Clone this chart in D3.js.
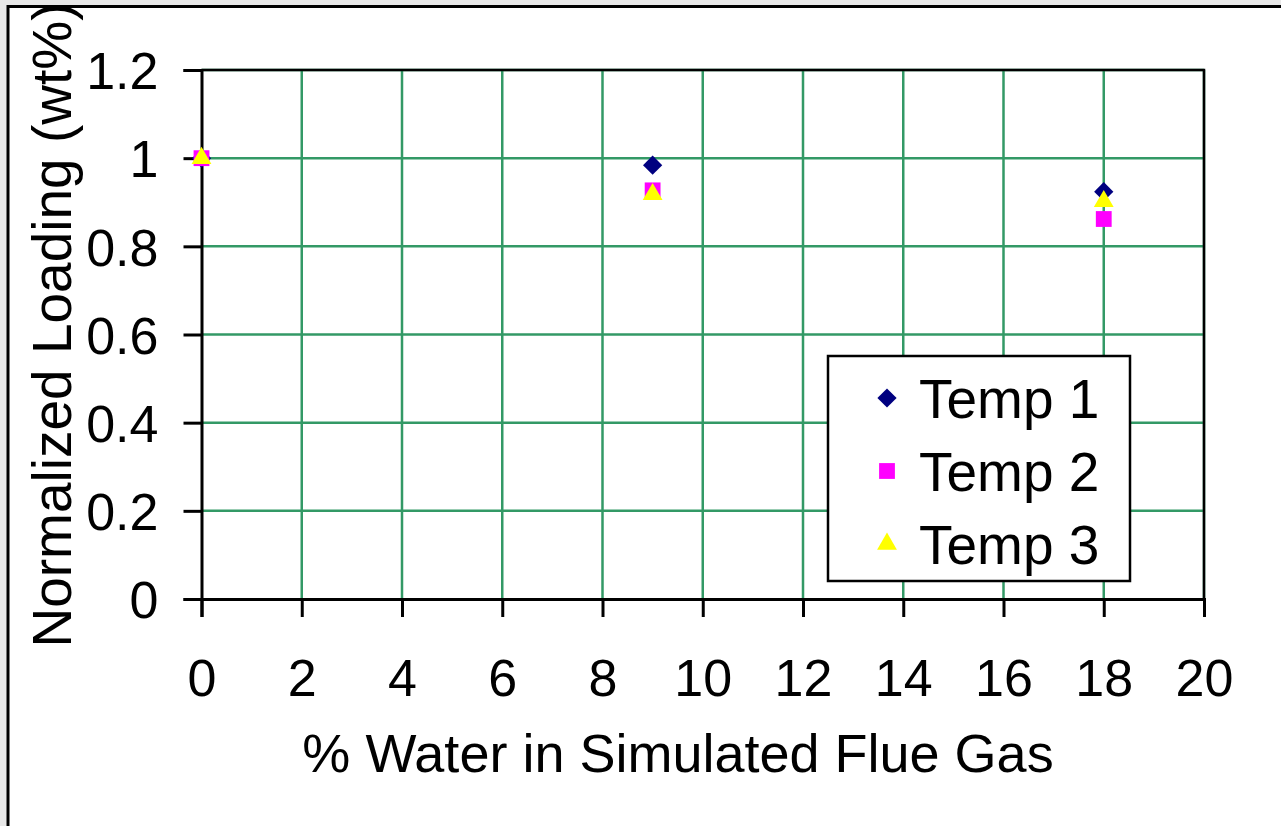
<!DOCTYPE html>
<html>
<head>
<meta charset="utf-8">
<script src="https://cdn.jsdelivr.net/npm/d3@7"></script>
<style>
  body { margin: 0; background: #e8e8e8; }
  svg { display: block; font-family: "Liberation Sans", Arial, sans-serif; }
</style>
</head>
<body>
<div id="chart"></div>
<script>
// data
var water = [0, 9, 18];
var temp1 = [1, 0.984, 0.924];
var temp2 = [1, 0.927, 0.862];
var temp3 = [1, 0.918, 0.902];
var seriesNames = ["Temp 1", "Temp 2", "Temp 3"];
var xTicks = [0, 2, 4, 6, 8, 10, 12, 14, 16, 18, 20];
var yTicks = [0, 0.2, 0.4, 0.6, 0.8, 1, 1.2];

var W = 1281, H = 826;
var svg = d3.select("#chart").append("svg").attr("width", W).attr("height", H);

// outer chart frame (runs off the right and bottom edge)
svg.append("rect").attr("x", 8).attr("y", 6.5).attr("width", 1400).attr("height", 1000)
  .attr("fill", "#fff").attr("stroke", "#000").attr("stroke-width", 3);

var x = d3.scaleLinear().domain([0, 20]).range([201.5, 1204]);
var y = d3.scaleLinear().domain([0, 1.2]).range([599, 70]);

var grid = svg.append("g");
grid.selectAll("line.v").data(xTicks.slice(1)).enter().append("line")
  .attr("x1", function (d) { return x(d); }).attr("x2", function (d) { return x(d); })
  .attr("y1", y(0)).attr("y2", y(1.2))
  .attr("stroke", "#339966").attr("stroke-width", 2.5);
grid.selectAll("line.h").data(yTicks.slice(1)).enter().append("line")
  .attr("x1", x(0)).attr("x2", x(20))
  .attr("y1", function (d) { return y(d); }).attr("y2", function (d) { return y(d); })
  .attr("stroke", "#339966").attr("stroke-width", 2.5);

// plot border top/right
svg.append("path")
  .attr("d", "M" + x(0) + "," + y(1.2) + "H" + x(20) + "V" + y(0))
  .attr("fill", "none").attr("stroke", "#000").attr("stroke-width", 2.5);

var xAxis = svg.append("g").attr("transform", "translate(0," + y(0) + ")")
  .call(d3.axisBottom(x).tickValues(xTicks).tickSize(18).tickPadding(42).tickFormat(d3.format("d")));
var yAxis = svg.append("g").attr("transform", "translate(" + x(0) + ",0)")
  .call(d3.axisLeft(y).tickValues(yTicks).tickSize(18).tickPadding(25).tickFormat(function (d) { return d3.format("")(+d.toFixed(1)); }));

[xAxis, yAxis].forEach(function (a) {
  a.select(".domain").attr("stroke", "#000").attr("stroke-width", 3);
  a.selectAll(".tick line").attr("stroke", "#000").attr("stroke-width", 3);
  a.selectAll(".tick text").attr("fill", "#000").style("font-size", "52px")
    .style("font-family", "Liberation Sans, Arial, sans-serif");
});
yAxis.selectAll(".tick text").attr("dy", "0.36em");
xAxis.selectAll(".tick text").attr("dy", "0.71em");

svg.append("text").attr("x", 678).attr("y", 772).attr("text-anchor", "middle")
  .style("font-size", "54px").text("% Water in Simulated Flue Gas");
svg.append("text").attr("transform", "translate(71,325) rotate(-90)").attr("text-anchor", "middle")
  .style("font-size", "55px").text("Normalized Loading (wt%)");

var symDiamond = d3.symbol().type(d3.symbolSquare).size(185);
var symSquare = d3.symbol().type(d3.symbolSquare).size(250);
var symTri = d3.symbol().type(d3.symbolTriangle).size(170);
var series = [
  { name: seriesNames[0], values: temp1, color: "#000080", path: symDiamond(), rot: 45 },
  { name: seriesNames[1], values: temp2, color: "#ff00ff", path: symSquare(), rot: 0 },
  { name: seriesNames[2], values: temp3, color: "#ffff00", path: symTri(), rot: 0 }
];

series.forEach(function (s) {
  svg.append("g").selectAll("path").data(s.values).enter().append("path")
    .attr("d", s.path).attr("fill", s.color)
    .attr("transform", function (d, i) {
      return "translate(" + x(water[i]) + "," + y(d) + ") rotate(" + s.rot + ")";
    });
});

// legend
var lg = svg.append("g");
lg.append("rect").attr("x", 828).attr("y", 356).attr("width", 302).attr("height", 225)
  .attr("fill", "#fff").attr("stroke", "#000").attr("stroke-width", 2.5);
series.forEach(function (s, i) {
  var cy = 398 + i * 73;
  lg.append("path").attr("d", s.path).attr("fill", s.color)
    .attr("transform", "translate(887," + cy + ") rotate(" + s.rot + ")");
  lg.append("text").attr("x", 919).attr("y", cy).attr("dy", "0.36em")
    .style("font-size", "55px").text(s.name);
});
</script>
</body>
</html>
